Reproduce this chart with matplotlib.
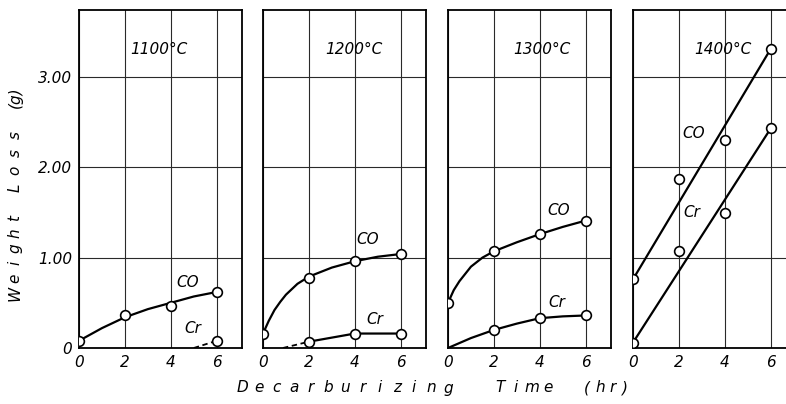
import matplotlib
matplotlib.use('Agg')
import matplotlib.pyplot as plt

# measured points (time in hr, weight loss in g)
times = [0, 2, 4, 6]
temps = ['1100°C', '1200°C', '1300°C', '1400°C']

co_1100 = [0.08, 0.37, 0.47, 0.62]
co_1100_fit_t = [0, 0.5, 1, 1.5, 2, 3, 4, 5, 6]
co_1100_fit = [0.08, 0.15, 0.22, 0.28, 0.34, 0.43, 0.50, 0.57, 0.62]
cr_1100_t = [6]
cr_1100 = [0.08]
cr_1100_dash_t = [5.0, 6]
cr_1100_dash = [0.0, 0.08]

co_1200 = [0.16, 0.78, 0.96, 1.04]
co_1200_fit_t = [0, 0.25, 0.5, 0.75, 1, 1.5, 2, 3, 4, 5, 6]
co_1200_fit = [0.16, 0.30, 0.42, 0.51, 0.59, 0.71, 0.79, 0.89, 0.96, 1.01, 1.04]
cr_1200_t = [2, 4, 6]
cr_1200 = [0.07, 0.16, 0.16]
cr_1200_dash_t = [0.87, 2]
cr_1200_dash = [0.0, 0.07]

co_1300 = [0.50, 1.07, 1.26, 1.41]
co_1300_fit_t = [0, 0.25, 0.5, 1, 1.5, 2, 3, 4, 5, 6]
co_1300_fit = [0.50, 0.64, 0.74, 0.90, 1.00, 1.07, 1.17, 1.26, 1.34, 1.41]
cr_1300_t = [2, 4, 6]
cr_1300 = [0.20, 0.33, 0.36]
cr_1300_fit_t = [0, 1, 2, 3, 4, 5, 6]
cr_1300_fit = [0.0, 0.11, 0.20, 0.27, 0.33, 0.35, 0.36]

co_1400 = [0.76, 1.87, 2.30, 3.31]
co_1400_fit_t = [0, 6]
co_1400_fit = [0.76, 3.31]
cr_1400 = [0.06, 1.07, 1.49, 2.43]
cr_1400_fit_t = [0, 6]
cr_1400_fit = [0.06, 2.43]

yticks = [0, 1, 2, 3]
ytick_labels = ['0', '1.00', '2.00', '3.00']

# label positions (data coords) for each panel
temp_pos = [(3.5, 3.30), (3.96, 3.30), (4.1, 3.30), (3.9, 3.30)]
co_pos = [(4.74, 0.73), (4.57, 1.20), (4.8, 1.52), (2.65, 2.37)]
cr_pos = [(4.96, 0.22), (4.87, 0.32), (4.76, 0.50), (2.55, 1.50)]

plt.rcParams['font.family'] = 'DejaVu Sans'
plt.rcParams['font.style'] = 'italic'

W, H = 786, 404
fig = plt.figure(figsize=(W / 100, H / 100), dpi=100)

lefts = [79, 263, 448, 633]
axes = []
for left in lefts:
    ax = fig.add_axes([left / W, (H - 348) / H, 163 / W, 338 / H])
    axes.append(ax)

line_kw = dict(color='black', lw=1.6)
mark_kw = dict(ls='none', marker='o', ms=7, mfc='white', mec='black', mew=1.2, zorder=5)

# 1100
ax = axes[0]
ax.plot(co_1100_fit_t, co_1100_fit, **line_kw)
ax.plot(cr_1100_dash_t, cr_1100_dash, ls=(0, (3, 2)), color='black', lw=1.3)
ax.plot(times, co_1100, **mark_kw)
ax.plot(cr_1100_t, cr_1100, **mark_kw)

# 1200
ax = axes[1]
ax.plot(co_1200_fit_t, co_1200_fit, **line_kw)
ax.plot(cr_1200_t, cr_1200, **line_kw)
ax.plot(cr_1200_dash_t, cr_1200_dash, ls=(0, (3, 2)), color='black', lw=1.3)
ax.plot(times, co_1200, **mark_kw)
ax.plot(cr_1200_t, cr_1200, **mark_kw)

# 1300
ax = axes[2]
ax.plot(co_1300_fit_t, co_1300_fit, **line_kw)
ax.plot(cr_1300_fit_t, cr_1300_fit, **line_kw)
ax.plot(times, co_1300, **mark_kw)
ax.plot(cr_1300_t, cr_1300, **mark_kw)

# 1400
ax = axes[3]
ax.plot(co_1400_fit_t, co_1400_fit, **line_kw)
ax.plot(cr_1400_fit_t, cr_1400_fit, **line_kw)
ax.plot(times, co_1400, **mark_kw)
ax.plot(times, cr_1400, **mark_kw)

for i, ax in enumerate(axes):
    ax.set_xlim(0, 7.1)
    ax.set_ylim(0, 3.74)
    ax.set_xticks(times)
    ax.set_xticklabels([str(t) for t in times], fontsize=11)
    ax.set_yticks(yticks)
    if i == 0:
        ax.set_yticklabels(ytick_labels, fontsize=11)
    else:
        ax.set_yticklabels([])
    ax.tick_params(length=0, pad=5)
    ax.grid(True, color='#2a2a2a', lw=0.8)
    for s in ax.spines.values():
        s.set_linewidth(1.3)
    ax.text(*temp_pos[i], temps[i], fontsize=11, ha='center', va='center')
    ax.text(*co_pos[i], 'CO', fontsize=11, ha='center', va='center')
    ax.text(*cr_pos[i], 'Cr', fontsize=11, ha='center', va='center')


def spaced(word, start, pitch, y, vertical=False):
    # draw a word letter by letter with wide spacing (pixel coords)
    for k, ch in enumerate(word):
        if vertical:
            fig.text(y / W, 1 - (start - k * pitch) / H, ch, fontsize=11,
                     rotation=90, ha='center', va='center')
        else:
            fig.text((start + k * pitch) / W, 1 - y / H, ch, fontsize=11,
                     ha='center', va='center')


spaced('Decarburizing', 242, 17.2, 388)
spaced('Time', 500, 16, 388)
spaced('(hr)', 587, 12.8, 388)

spaced('Weight', 293, 15, 15, vertical=True)
spaced('Loss', 188, 17.7, 15, vertical=True)
fig.text(15 / W, 1 - 97 / H, '(g)', fontsize=11, rotation=90, ha='center', va='center')

fig.savefig('out.png', dpi=100)
